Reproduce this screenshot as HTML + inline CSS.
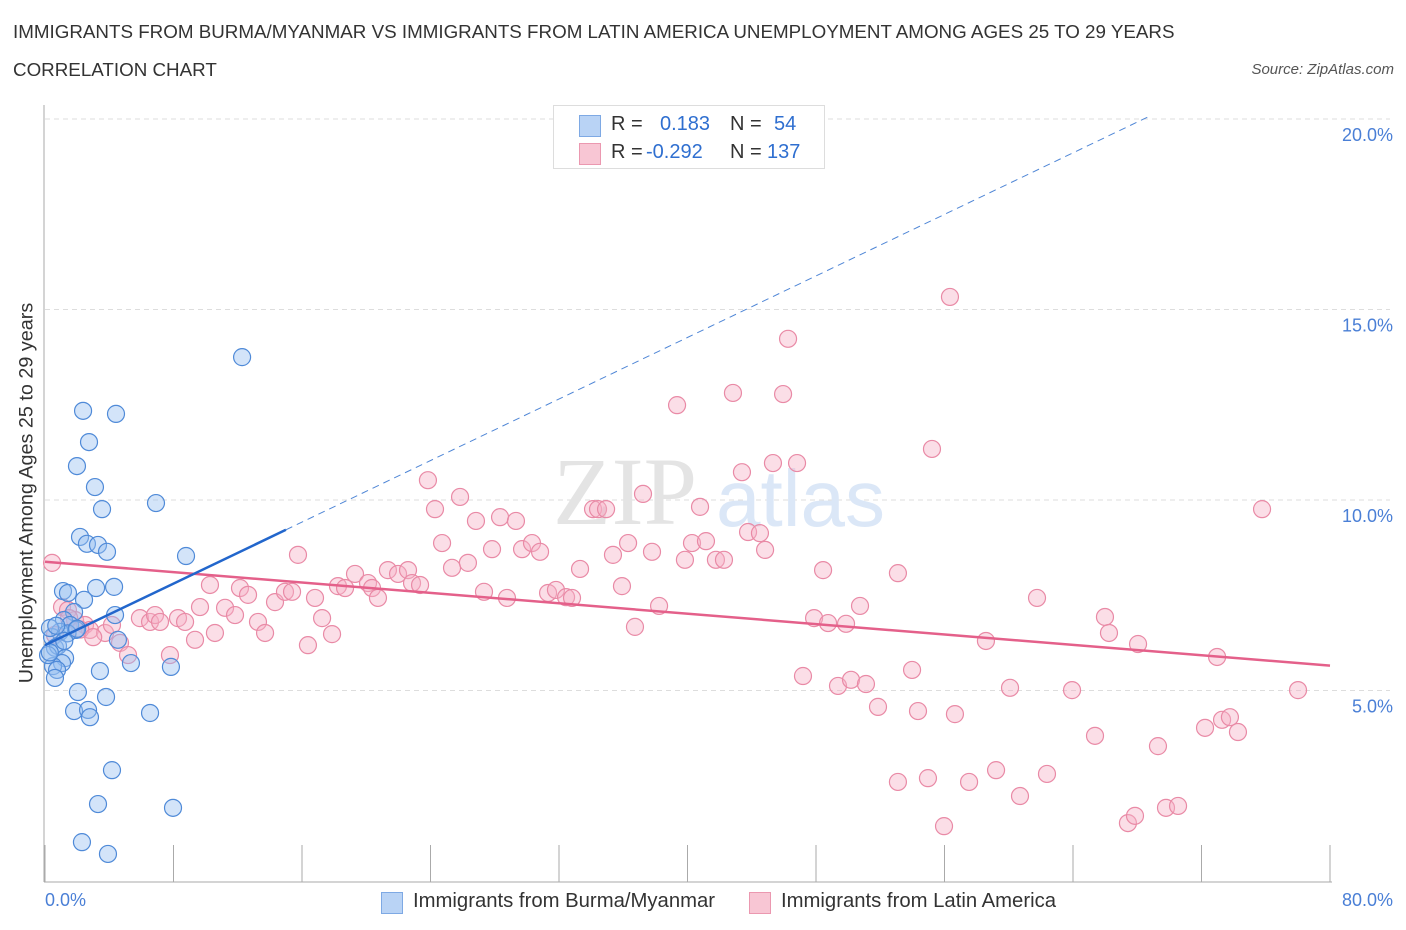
<!DOCTYPE html>
<html><head><meta charset="utf-8"><style>
body{margin:0;background:#fff;font-family:"Liberation Sans",sans-serif;}
#wrap{position:relative;width:1406px;height:930px;overflow:hidden}
.t{position:absolute;white-space:nowrap}
</style></head><body>
<div id="wrap">
<div class="t" style="left:13px;top:21px;font-size:18.8px;color:#333">IMMIGRANTS FROM BURMA/MYANMAR VS IMMIGRANTS FROM LATIN AMERICA UNEMPLOYMENT AMONG AGES 25 TO 29 YEARS</div>
<div class="t" style="left:13px;top:59px;font-size:18.8px;color:#333">CORRELATION CHART</div>
<div class="t" style="right:12px;top:61px;font-size:15px;color:#555;font-style:italic">Source: ZipAtlas.com</div>
<svg id="plot" width="1406" height="930" style="position:absolute;left:0;top:0"></svg>
</div>
<script>
const xVals1=[12.27,2.37,4.42,2.74,1.99,3.11,3.55,6.91,2.18,2.61,3.30,3.86,8.78,1.12,1.43,3.18,4.30,2.43,4.36,1.81,1.18,1.56,0.93,1.93,0.44,4.54,0.62,0.81,1.25,1.06,0.50,0.75,0.62,3.42,5.35,7.84,2.05,3.80,1.81,2.68,2.80,6.54,4.17,3.30,7.97,2.30,3.92,0.31,0.19,1.40,0.70,2.00,1.20,0.30];
const yVals1=[13.75,12.34,12.26,11.52,10.89,10.34,9.76,9.92,9.03,8.85,8.82,8.64,8.53,7.61,7.56,7.69,7.72,7.38,6.98,7.06,6.85,6.72,6.54,6.59,6.40,6.33,6.12,6.17,5.85,5.72,5.64,5.54,5.33,5.51,5.72,5.62,4.96,4.83,4.46,4.49,4.30,4.41,2.91,2.02,1.92,1.02,0.71,6.64,5.93,6.50,6.70,6.62,6.30,6.00];
const xVals2=[0.44,1.06,1.43,0.62,1.87,2.49,2.80,3.74,4.17,4.67,5.17,5.91,6.54,6.85,7.16,7.78,8.28,8.72,9.34,9.65,10.27,10.58,11.21,11.83,12.14,12.64,13.26,13.70,14.32,14.94,15.38,15.75,16.37,16.81,17.25,17.87,18.24,18.68,19.30,20.11,20.36,20.73,21.35,21.98,22.60,22.85,23.35,23.84,24.28,24.72,25.34,25.84,26.33,26.83,27.33,27.83,28.33,28.76,29.32,29.70,30.32,30.82,31.32,31.81,32.44,32.81,33.31,34.12,34.43,34.93,35.36,35.92,36.30,36.73,37.23,37.79,38.23,39.35,39.84,40.28,41.15,40.78,41.77,42.27,42.83,43.39,43.77,44.51,44.83,45.32,45.95,46.26,46.82,47.19,47.88,48.44,48.75,49.37,49.87,50.18,50.74,51.11,51.86,53.10,53.10,53.98,54.35,54.97,55.22,56.34,56.65,57.53,58.58,59.21,60.08,60.70,61.76,62.38,63.94,65.37,65.99,66.24,68.05,67.42,67.86,69.29,69.79,70.54,72.22,72.97,73.28,73.77,74.27,75.77,78.01,55.97,1.5,2.2,3.0];
const yVals2=[8.35,7.19,7.11,6.46,6.85,6.72,6.59,6.51,6.72,6.25,5.93,6.90,6.80,6.98,6.80,5.93,6.90,6.80,6.33,7.19,7.77,6.51,7.17,6.98,7.69,7.51,6.80,6.51,7.32,7.59,7.59,8.56,6.19,7.43,6.90,6.48,7.74,7.69,8.06,7.82,7.69,7.43,8.16,8.06,8.16,7.82,7.77,10.52,9.76,8.87,8.22,10.08,8.35,9.45,7.59,8.71,9.55,7.43,9.45,8.71,8.87,8.64,7.56,7.64,7.45,7.43,8.19,9.76,9.76,9.76,8.56,7.74,8.87,6.67,10.16,8.64,7.22,12.49,8.43,8.87,8.92,9.82,8.43,8.43,12.81,10.73,9.16,9.13,8.69,10.97,12.78,14.23,10.97,5.38,6.90,8.16,6.77,5.12,6.75,5.28,7.22,5.17,4.57,2.60,8.08,5.54,4.46,2.70,11.34,15.33,4.38,2.60,6.30,2.91,5.07,2.23,7.43,2.81,5.01,3.81,6.93,6.51,6.22,1.52,1.71,3.54,1.92,1.97,4.02,5.88,4.23,4.30,3.91,9.76,5.01,1.44,6.9,6.6,6.4];
const xTicks=[0,8,16,24,32,40,48,56,64,72,80];
const yTicks=[5,10,15,20];
const yTickLabels=["5.0%","10.0%","15.0%","20.0%"];
const trend1=[6.19,0.2019]; const trend2=[8.38,-0.0341];
const NS="http://www.w3.org/2000/svg";
const svg=document.getElementById('plot');
const X=v=>45+v*(1285/80), Y=v=>881-v*38.1;
function mk(t,a,p){const e=document.createElementNS(NS,t);for(const k in a)e.setAttribute(k,a[k]);(p||svg).appendChild(e);return e;}
yTicks.forEach((v,i)=>{const g=mk('line',{x1:45,x2:1390,y1:Y(v),y2:Y(v),stroke:'#ddd','stroke-dasharray':'5,4'});


const t=mk('text',{x:1393,y:Y(v)+22,'text-anchor':'end','font-size':18,fill:'#4a7fd6','font-family':'Liberation Sans'});t.textContent=yTickLabels[i];

});
const ax=mk('line',{x1:44,x2:44,y1:105,y2:882,stroke:'#aaa'});


const bx=mk('line',{x1:44,x2:1332,y1:882,y2:882,stroke:'#aaa'});


xTicks.forEach(v=>{const l=mk('line',{x1:X(v),x2:X(v),y1:845,y2:882,stroke:'#aaa'});

});
const w1=mk('text',{x:553,y:524,'font-size':96,fill:'#e4e4e4','font-family':'Liberation Serif'});w1.textContent='ZIP';


const w2=mk('text',{x:716,y:526,'font-size':80,fill:'#dbe7f7','font-family':'Liberation Sans'});w2.textContent='atlas';


function pts(xs,ys,fill,stroke,name){xs.forEach((x,i)=>{const c=mk('circle',{cx:X(x),cy:Y(ys[i]),r:8.5,fill:fill,stroke:stroke,'stroke-width':1.2});

});}
pts(xVals2,yVals2,'rgba(246,176,198,0.42)','#e98aa6','latin-america-point');
pts(xVals1,yVals1,'rgba(150,190,240,0.42)','#4f8ad8','burma-point');
const t2=mk('line',{x1:X(0),y1:Y(trend2[0]),x2:X(80),y2:Y(trend2[0]+trend2[1]*80),stroke:'#e4608a','stroke-width':2.5});


const t1=mk('line',{x1:X(0),y1:Y(trend1[0]),x2:X(15),y2:Y(trend1[0]+trend1[1]*15),stroke:'#2266cc','stroke-width':2.5});


const t1d=mk('line',{x1:X(15),y1:Y(trend1[0]+trend1[1]*15),x2:X(68.7),y2:Y(trend1[0]+trend1[1]*68.7),stroke:'#4f86d6','stroke-width':1,'stroke-dasharray':'7,5'});


</script>
<div class="t" style="left:27px;top:493px;transform:translate(-50%,-50%) rotate(-90deg);font-size:19.8px;color:#333">Unemployment Among Ages 25 to 29 years</div>
<div class="t" style="left:45px;top:890px;font-size:18px;color:#4a7fd6">0.0%</div>
<div class="t" style="right:13px;top:890px;font-size:18px;color:#4a7fd6">80.0%</div>
<div style="position:absolute;left:553px;top:105px;width:270px;height:62px;border:1px solid #ddd;background:#fff;font-size:20px">
 <div style="position:absolute;left:25px;top:9px;width:20px;height:20px;background:#b9d3f5;border:1px solid #7ea9e4"></div>
 <div class="t" style="left:57px;top:7px;color:#333">R =</div><div class="t" style="left:106px;top:7px;color:#2f6fd0">0.183</div>
 <div class="t" style="left:176px;top:7px;color:#333">N =</div><div class="t" style="left:220px;top:7px;color:#2f6fd0">54</div>
 <div style="position:absolute;left:25px;top:37px;width:20px;height:20px;background:#f8c6d4;border:1px solid #eb98b0"></div>
 <div class="t" style="left:57px;top:35px;color:#333">R =</div><div class="t" style="left:92px;top:35px;color:#2f6fd0">-0.292</div>
 <div class="t" style="left:176px;top:35px;color:#333">N =</div><div class="t" style="left:213px;top:35px;color:#2f6fd0">137</div>
</div>
<div style="position:absolute;left:381px;top:890px;font-size:20.3px;color:#333">
 <span style="position:absolute;left:0;top:2px;width:20px;height:20px;background:#b9d3f5;border:1px solid #7ea9e4"></span>
 <span class="t" style="left:32px;top:0">Immigrants from Burma/Myanmar</span></div>
<div style="position:absolute;left:749px;top:890px;font-size:20.3px;color:#333">
 <span style="position:absolute;left:0;top:2px;width:20px;height:20px;background:#f8c6d4;border:1px solid #eb98b0"></span>
 <span class="t" style="left:32px;top:0">Immigrants from Latin America</span></div>
</body></html>
